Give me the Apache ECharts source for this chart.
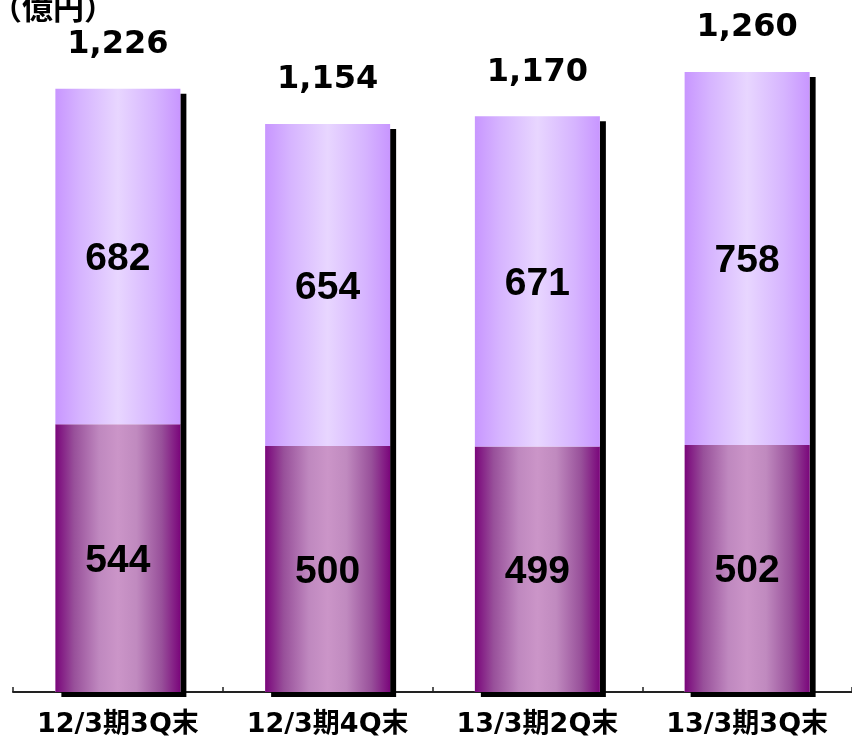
<!DOCTYPE html>
<html>
<head>
<meta charset="utf-8">
<script src="https://cdn.jsdelivr.net/npm/echarts@6/dist/echarts.min.js"></script>
<style>html,body{margin:0;padding:0;background:#fff}#c{width:852px;height:741px}</style>
</head>
<body>
<div id="c"></div>
<script>
const categories = ['12/3期3Q末', '12/3期4Q末', '13/3期2Q末', '13/3期3Q末'];
const lowerValues = [544, 500, 499, 502];
const upperValues = [682, 654, 671, 758];
const totalValues = [1226, 1154, 1170, 1260];
const unitLabel = '（億円）';

const chart = echarts.init(document.getElementById('c'), null, {renderer: 'canvas'});

const lowerGrad = new echarts.graphic.LinearGradient(0, 0, 1, 0, [
  {offset: 0, color: '#7a067b'},
  {offset: 0.15, color: '#98509a'},
  {offset: 0.35, color: '#bf88bf'},
  {offset: 0.5, color: '#cb95c8'},
  {offset: 0.65, color: '#c08abf'},
  {offset: 0.85, color: '#98509a'},
  {offset: 1, color: '#7a067b'}
]);
const upperGrad = new echarts.graphic.LinearGradient(0, 0, 1, 0, [
  {offset: 0, color: '#c896ff'},
  {offset: 0.2, color: '#d6b4ff'},
  {offset: 0.5, color: '#e8d6ff'},
  {offset: 0.8, color: '#d6b4ff'},
  {offset: 1, color: '#c896ff'}
]);

chart.setOption({
  animation: false,
  title: {
    text: unitLabel,
    left: -9, top: -8, padding: 0,
    textStyle: {fontSize: 31, fontWeight: 'bold', color: '#000', fontFamily: '"Noto Sans CJK JP", sans-serif'}
  },
  grid: {left: 13, right: 0, top: 3, bottom: 49, containLabel: false},
  xAxis: {
    type: 'category',
    data: categories,
    axisLine: {lineStyle: {color: '#222', width: 2}},
    axisTick: {show: true, inside: true, interval: 0, length: 5, lineStyle: {color: '#222', width: 1.5}},
    axisLabel: {
      interval: 0, hideOverlap: false,
      margin: 19, fontSize: 27, fontWeight: 'bold', color: '#000',
      fontFamily: '"DejaVu Sans", "Noto Sans CJK JP", sans-serif'
    }
  },
  yAxis: {type: 'value', min: 0, max: 1400, show: false, splitLine: {show: false}},
  series: [
    {
      type: 'bar', data: totalValues, barWidth: 125, barGap: '-100%', z: 1,
      itemStyle: {color: '#ffffff', shadowColor: '#000', shadowOffsetX: 6, shadowOffsetY: 5, shadowBlur: 0},
      label: {
        show: true, position: 'top', distance: 28,
        formatter: p => p.value.toLocaleString('en-US'),
        fontSize: 32, fontWeight: 'bold', color: '#000',
        fontFamily: '"DejaVu Sans", sans-serif'
      }
    },
    {
      type: 'bar', stack: 'a', data: lowerValues, barWidth: 125, z: 2,
      itemStyle: {color: lowerGrad},
      label: {show: true, position: 'inside', offset: [0, 3], fontSize: 39, fontWeight: 'bold', color: '#000', fontFamily: '"Liberation Sans", Arial, sans-serif'}
    },
    {
      type: 'bar', stack: 'a', data: upperValues, barWidth: 125, z: 2,
      itemStyle: {color: upperGrad},
      label: {show: true, position: 'inside', offset: [0, 3], fontSize: 39, fontWeight: 'bold', color: '#000', fontFamily: '"Liberation Sans", Arial, sans-serif'}
    }
  ]
});
</script>
</body>
</html>
